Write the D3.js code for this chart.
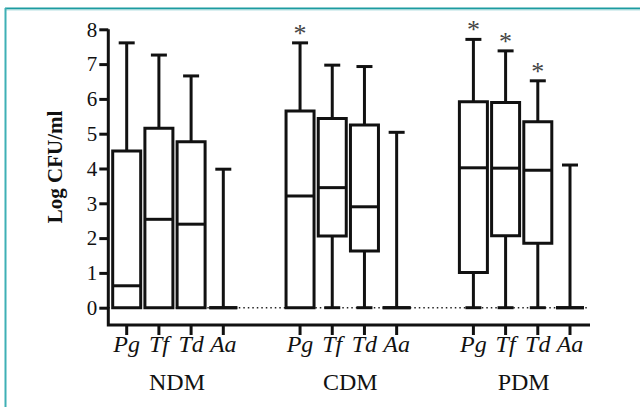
<!DOCTYPE html>
<html>
<head>
<meta charset="utf-8">
<script src="https://cdn.jsdelivr.net/npm/d3@7"></script>
<style>
  body { margin: 0; background: #fff; }
  svg { display: block; }
  svg text { font-family: "Liberation Serif", "Times New Roman", serif; }
</style>
</head>
<body>
<svg id="chart" width="640" height="407"></svg>
<script>
const width = 640;
const height = 407;

const groups = ["NDM", "CDM", "PDM"];
const species = ["Pg", "Tf", "Td", "Aa"];
const yTicks = [0, 1, 2, 3, 4, 5, 6, 7, 8];

// one row per group, one column per species
const whiskerMax = [[7.61, 7.26, 6.66, 3.98], [7.61, 6.97, 6.93, 5.04], [7.71, 7.38, 6.52, 4.10]];
const q3 = [[4.50, 5.16, 4.77, 0], [5.65, 5.44, 5.25, 0], [5.92, 5.90, 5.34, 0]];
const median = [[0.63, 2.54, 2.40, 0], [3.21, 3.45, 2.90, 0], [4.02, 4.01, 3.95, 0]];
const q1 = [[0, 0, 0, 0], [0, 2.06, 1.63, 0], [1.01, 2.07, 1.85, 0]];
const whiskerMin = [[0, 0, 0, 0], [0, 0, 0, 0], [0, 0, 0, 0]];
const significant = [[false, false, false, false], [true, false, false, false], [true, true, true, false]];

const svg = d3.select("#chart");

// teal frame
svg.append("line").attr("x1", 5).attr("x2", width).attr("y1", 8.5).attr("y2", 8.5)
  .attr("stroke", "#1c9ba0").attr("stroke-width", 2);
svg.append("line").attr("x1", 5).attr("x2", width).attr("y1", 10).attr("y2", 10)
  .attr("stroke", "#b5e0e2").attr("stroke-width", 1);
svg.append("line").attr("x1", 5.5).attr("x2", 5.5).attr("y1", 8).attr("y2", height)
  .attr("stroke", "#3fb0b5").attr("stroke-width", 2);

const y = d3.scaleLinear().domain([0, 8]).range([307.7, 29.3]);
const xGroup = d3.scalePoint().domain(groups).range([175, 521.7]);
const xInner = d3.scalePoint().domain(species).range([-48.3, 48.3]);
const xOf = (g, s) => xGroup(g) + xInner(s);

const axisX0 = 108.3;
const axisY = 325;
const axisRight = 590;
const boxW = 28;
const capW = 16;

// dotted zero line
svg.append("line")
  .attr("x1", axisX0).attr("x2", 588)
  .attr("y1", y(0)).attr("y2", y(0))
  .attr("stroke", "#222").attr("stroke-width", 1.5)
  .attr("stroke-dasharray", "1.5,3");

// y axis
const yAxis = svg.append("g")
  .attr("transform", `translate(${axisX0},0)`)
  .call(d3.axisLeft(y).tickValues(yTicks).tickSize(9).tickPadding(2).tickFormat(d3.format("d")));
yAxis.attr("font-family", null).attr("font-size", null);
yAxis.select(".domain").remove();
yAxis.selectAll(".tick line").attr("stroke", "#111").attr("stroke-width", 3);
yAxis.selectAll(".tick text")
  .style("font-size", "21px").attr("fill", "#111");

svg.append("path")
  .attr("d", `M${axisX0},${y(8)}V${axisY}H${axisRight}`)
  .attr("fill", "none").attr("stroke", "#111").attr("stroke-width", 3)
  .attr("stroke-linecap", "butt").attr("stroke-linejoin", "miter");

// y label
svg.append("text")
  .attr("transform", "translate(55,167) rotate(-90)")
  .attr("text-anchor", "middle").attr("dominant-baseline", "central")
  .style("font-weight", "bold").style("font-size", "21px")
  .attr("fill", "#111")
  .text("Log CFU/ml");

const cells = [];
groups.forEach((g, gi) => species.forEach((s, si) => cells.push({
  g, s, max: whiskerMax[gi][si], hi: q3[gi][si], med: median[gi][si],
  lo: q1[gi][si], min: whiskerMin[gi][si], star: significant[gi][si]
})));

const plot = svg.append("g")
  .attr("stroke", "#111").attr("stroke-width", 3).attr("fill", "none");

// whiskers
cells.forEach(d => {
  const cx = xOf(d.g, d.s);
  plot.append("line").attr("x1", cx).attr("x2", cx).attr("y1", y(d.hi)).attr("y2", y(d.max));
  plot.append("line").attr("x1", cx - capW / 2).attr("x2", cx + capW / 2).attr("y1", y(d.max)).attr("y2", y(d.max));
  if (d.lo > d.min) {
    plot.append("line").attr("x1", cx).attr("x2", cx).attr("y1", y(d.lo)).attr("y2", y(d.min));
    plot.append("line").attr("x1", cx - capW / 2).attr("x2", cx + capW / 2).attr("y1", y(d.min)).attr("y2", y(d.min));
  }
});

// boxes
cells.forEach(d => {
  const cx = xOf(d.g, d.s);
  const x0 = cx - boxW / 2, x1 = cx + boxW / 2;
  plot.append("path")
    .attr("d", `M${x0},${y(d.lo)}V${y(d.hi)}H${x1}V${y(d.lo)}Z`)
    .attr("fill", "#fff").attr("stroke-linejoin", "miter");
  plot.append("line").attr("x1", x0).attr("x2", x1).attr("y1", y(d.med)).attr("y2", y(d.med));
});

// significance stars
svg.selectAll(".star")
  .data(cells.filter(d => d.star))
  .join("text")
  .attr("class", "star")
  .attr("x", d => xOf(d.g, d.s))
  .attr("y", d => y(d.max) - 1)
  .attr("text-anchor", "middle")
  .style("font-size", "26px").attr("fill", "#444")
  .text("*");

// x ticks and labels
cells.forEach(d => {
  const cx = xOf(d.g, d.s);
  svg.append("line").attr("x1", cx).attr("x2", cx).attr("y1", axisY).attr("y2", axisY + 10)
    .attr("stroke", "#111").attr("stroke-width", 3);
  svg.append("text")
    .attr("x", cx).attr("y", 352)
    .attr("text-anchor", "middle")
    .style("font-style", "italic").style("font-size", "24px")
    .attr("fill", "#111")
    .text(d.s);
});

svg.selectAll(".group")
  .data(groups)
  .join("text")
  .attr("class", "group")
  .attr("x", d => xGroup(d) + 2)
  .attr("y", 390)
  .attr("text-anchor", "middle")
  .style("font-size", "24px").attr("fill", "#111")
  .text(d => d);
</script>
</body>
</html>
